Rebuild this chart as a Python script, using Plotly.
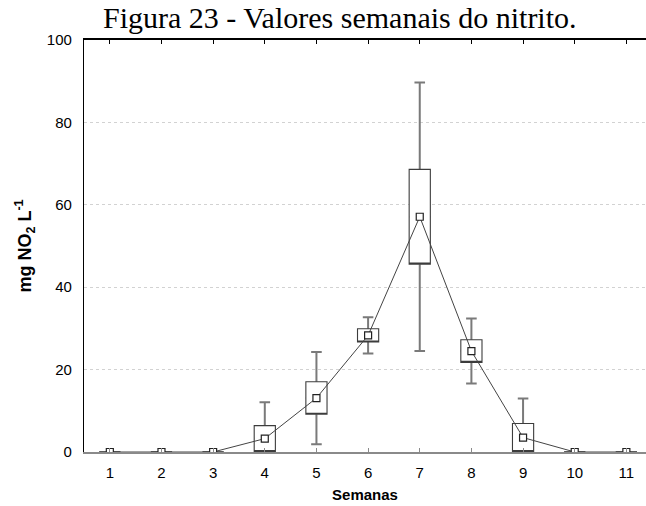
import plotly.graph_objects as go

weeks = [1, 2, 3, 4, 5, 6, 7, 8, 9, 10, 11]
mean = [0, 0, 0, 3.25, 13.1, 28.3, 57.1, 24.5, 3.5, 0, 0]
se = [0, 0, 0, 3.15, 3.95, 1.6, 11.5, 2.75, 3.4, 0, 0]
sd = [0, 0, 0, 8.85, 11.2, 4.4, 32.6, 7.9, 9.5, 0, 0]
yticks = [0, 20, 40, 60, 80, 100]

box_lo = [m - s for m, s in zip(mean, se)]
box_hi = [m + s for m, s in zip(mean, se)]
wh_lo = [m - s for m, s in zip(mean, sd)]
wh_hi = [m + s for m, s in zip(mean, sd)]

fig = go.Figure()

# whiskers (gray), collapsed box at the mean (hidden under the box below)
fig.add_trace(go.Box(
    x=weeks, q1=mean, median=mean, q3=mean,
    lowerfence=wh_lo, upperfence=wh_hi,
    width=0.41, whiskerwidth=0.5,
    fillcolor="white", line=dict(color="#7a7a7a", width=2),
    boxpoints=False, showlegend=False, hoverinfo="skip"))
# box outline (dark)
fig.add_trace(go.Box(
    x=weeks, q1=box_lo, median=box_lo, q3=box_hi,
    lowerfence=box_lo, upperfence=box_hi,
    width=0.41, whiskerwidth=0,
    fillcolor="white", line=dict(color="#3c3c3c", width=1.1),
    boxpoints=False, showlegend=False, hoverinfo="skip"))
# means
fig.add_trace(go.Scatter(
    x=weeks, y=mean, mode="lines+markers",
    line=dict(color="#444444", width=1),
    marker=dict(symbol="square", size=7, color="white",
                line=dict(color="#222222", width=1.2)),
    showlegend=False))
# dummy on top axis
fig.add_trace(go.Scatter(x=[weeks[0]], y=[mean[0]], xaxis="x2", mode="markers",
                         marker=dict(opacity=0), showlegend=False, hoverinfo="skip"))

fig.update_layout(
    width=646, height=506,
    margin=dict(l=84, r=0, t=40, b=54),
    paper_bgcolor="white", plot_bgcolor="white",
    font=dict(family="Liberation Sans, Arial", size=15, color="black"),
    title=dict(text="Figura 23 - Valores semanais do nitrito.",
               font=dict(family="Liberation Serif, Times New Roman", size=30, color="black"),
               xref="container", x=103 / 646, xanchor="left",
               yref="container", y=1 - 17 / 506, yanchor="middle"),
    xaxis=dict(range=[0.5, 11.38], tickvals=weeks, ticktext=[str(w) for w in weeks],
               showline=True, linecolor="#8a8a8a", linewidth=2,
               ticks="inside", ticklen=4, tickcolor="#8a8a8a", tickwidth=1,
               showgrid=False, zeroline=False, ticklabelstandoff=6,
               title=dict(text="<b>Semanas</b>", font=dict(size=15), standoff=9)),
    xaxis2=dict(range=[0.5, 11.38], overlaying="x", side="top", tickvals=weeks,
                showticklabels=False, showline=True, linecolor="black", linewidth=1.5,
                ticks="inside", ticklen=4, tickcolor="black", tickwidth=1,
                showgrid=False, zeroline=False),
    yaxis=dict(range=[0, 100], tickvals=yticks, showline=True, linecolor="black", linewidth=1.3,
               ticks="", showgrid=True, gridcolor="#d2d2d2", griddash="dot", gridwidth=1,
               zeroline=False, ticklabelstandoff=8,
               title=dict(text="<b>mg NO<sub>2</sub> L<sup>-1</sup></b>", font=dict(size=18), standoff=10)),
)

fig.write_html("out.html")
